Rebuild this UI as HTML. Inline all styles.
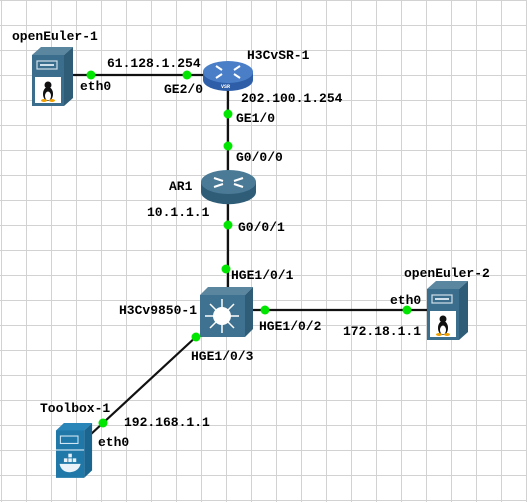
<!DOCTYPE html>
<html><head><meta charset="utf-8"><style>
html,body{margin:0;padding:0;background:#fff;}
svg{display:block}
text{font-family:"Liberation Mono",monospace;font-weight:bold;font-size:13px;fill:#000}
</style></head><body>
<svg width="527" height="502" viewBox="0 0 527 502" xmlns="http://www.w3.org/2000/svg">
<defs>
<pattern id="g" width="25" height="25" patternUnits="userSpaceOnUse" x="1" y="0">
<path d="M0 0V25M0 0H25" stroke="#d2d2d2" stroke-width="2" fill="none"/>
</pattern>
<g id="srv">
<polygon points="0,8 9,0 41,0 32,8" fill="#5a86a0"/>
<polygon points="32,8 41,0 41,51 32,59" fill="#2f5d78"/>
<rect x="0" y="8" width="32" height="51" fill="#3b6e8c"/>
<rect x="5" y="14" width="20" height="8" fill="none" stroke="#cfe0ea" stroke-width="1.2"/>
<rect x="8" y="17" width="14" height="2" fill="#cfe0ea"/>
<rect x="3" y="30" width="26" height="26" fill="#fff"/>
</g>
<g id="tux">
<ellipse cx="16" cy="47" rx="5" ry="7" fill="#111"/>
<ellipse cx="16" cy="49" rx="3" ry="4.5" fill="#fff"/>
<circle cx="16" cy="38" r="3.5" fill="#111"/>
<ellipse cx="12" cy="53.5" rx="3" ry="1.5" fill="#f0a000"/>
<ellipse cx="20" cy="53.5" rx="3" ry="1.5" fill="#f0a000"/>
</g>
</defs>
<rect width="527" height="502" fill="#fff"/>
<rect width="527" height="502" fill="url(#g)"/>

<g stroke="#111" stroke-width="2.2" fill="none">
<line x1="70" y1="75" x2="205" y2="75"/>
<line x1="228" y1="88" x2="228" y2="290"/>
<line x1="250" y1="310" x2="430" y2="310"/>
<line x1="198" y1="335" x2="90" y2="435"/>
</g>

<g transform="translate(32,47)"><use href="#srv"/><use href="#tux"/></g>
<g transform="translate(427,281)"><use href="#srv"/><use href="#tux"/></g>
<g transform="translate(56,423) scale(0.88,0.93)">
<polygon points="0,8 9,0 41,0 32,8" fill="#2a86b8"/>
<polygon points="32,8 41,0 41,51 32,59" fill="#1a6690"/>
<rect x="0" y="8" width="32" height="51" fill="#1f78a8"/>
<rect x="5" y="14" width="20" height="8" fill="none" stroke="#d0e6f2" stroke-width="1.2"/>
<rect x="0" y="28" width="32" height="2" fill="#8fbcd6"/>
<path d="M4 44 H28 Q26 52 16 53 Q6 53 4 44Z" fill="#e8f2f8"/>
<rect x="9" y="38" width="4" height="4" fill="#e8f2f8"/><rect x="14" y="38" width="4" height="4" fill="#e8f2f8"/><rect x="19" y="38" width="4" height="4" fill="#e8f2f8"/><rect x="14" y="33" width="4" height="4" fill="#e8f2f8"/>
</g>

<g>
<path d="M203 72 V80 A25 11 0 0 0 253 80 V72 Z" fill="#2e5ea8"/>
<ellipse cx="228" cy="72" rx="25" ry="11" fill="#4a7fc8"/>
<g stroke="#fff" stroke-width="2" fill="none">
<path d="M216 66 L222 70 M240 66 L234 70 M216 78 L222 74 M240 78 L234 74"/>
</g>
<text x="221" y="88" style="font-size:5px;fill:#fff">VSR</text>
</g>

<g>
<path d="M201 182 V192 A27 12 0 0 0 256 192 V182 Z" fill="#2f5d78"/>
<ellipse cx="228.5" cy="182" rx="27.5" ry="12" fill="#4a7a96"/>
<g stroke="#fff" stroke-width="2" fill="none">
<path d="M214 178 L223 181 M243 178 L234 181 M214 187 L223 184 M243 187 L234 184"/>
</g>
</g>

<g>
<polygon points="200,295 208,287 253,287 245,295" fill="#5a86a0"/>
<polygon points="245,295 253,287 253,329 245,337" fill="#2f5d78"/>
<rect x="200" y="295" width="45" height="42" fill="#3f7290"/>
<circle cx="222" cy="316" r="9" fill="#fff"/>
<g stroke="#fff" stroke-width="1.5">
<line x1="222" y1="299" x2="222" y2="333"/><line x1="205" y1="316" x2="239" y2="316"/>
<line x1="210" y1="304" x2="234" y2="328"/><line x1="234" y1="304" x2="210" y2="328"/>
</g>
</g>

<g fill="#00e600">
<circle cx="91" cy="75" r="4.5"/><circle cx="187" cy="75" r="4.5"/>
<circle cx="228" cy="114" r="4.5"/><circle cx="228" cy="146" r="4.5"/>
<circle cx="228" cy="225" r="4.5"/><circle cx="226" cy="269" r="4.5"/>
<circle cx="265" cy="310" r="4.5"/><circle cx="407" cy="310" r="4.5"/>
<circle cx="196" cy="337" r="4.5"/><circle cx="103" cy="423" r="4.5"/>
</g>

<text x="12" y="40">openEuler-1</text>
<text x="107" y="67">61.128.1.254</text>
<text x="80" y="90">eth0</text>
<text x="164" y="93">GE2/0</text>
<text x="247" y="59">H3CvSR-1</text>
<text x="241" y="102">202.100.1.254</text>
<text x="236" y="122">GE1/0</text>
<text x="236" y="161">G0/0/0</text>
<text x="169" y="190">AR1</text>
<text x="147" y="216">10.1.1.1</text>
<text x="238" y="231">G0/0/1</text>
<text x="231" y="279">HGE1/0/1</text>
<text x="119" y="314">H3Cv9850-1</text>
<text x="259" y="330">HGE1/0/2</text>
<text x="404" y="277">openEuler-2</text>
<text x="390" y="304">eth0</text>
<text x="343" y="335">172.18.1.1</text>
<text x="191" y="360">HGE1/0/3</text>
<text x="40" y="412">Toolbox-1</text>
<text x="124" y="426">192.168.1.1</text>
<text x="98" y="446">eth0</text>
</svg>
</body></html>
